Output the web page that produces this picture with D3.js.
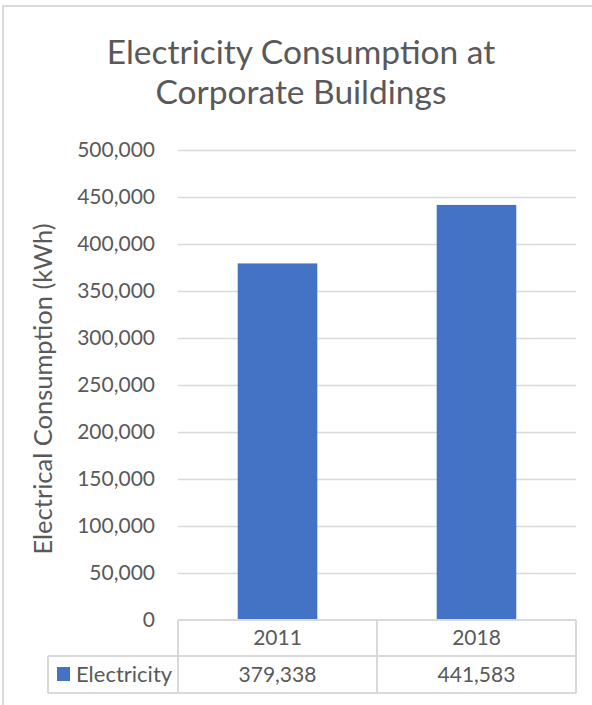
<!DOCTYPE html>
<html>
<head>
<meta charset="utf-8">
<script src="https://cdn.jsdelivr.net/npm/d3@7"></script>
<style>
  html, body { margin: 0; padding: 0; background: #ffffff; }
  svg { display: block; font-family: Lato, "Open Sans", sans-serif; }
</style>
</head>
<body>
<svg id="chart" width="592" height="705"></svg>
<script>
// Chart data
const categories = ["2011", "2018"];
const seriesName = "Electricity";
const electricity = [379338, 441583];
const yTicks = [0, 50000, 100000, 150000, 200000, 250000, 300000, 350000, 400000, 450000, 500000];
const titleLines = ["Electricity Consumption at", "Corporate Buildings"];
const yAxisTitle = "Electrical Consumption (kWh)";

const textColor = "#595959";
const gridColor = "#d9d9d9";
const barColor = "#4472c4";

const svg = d3.select("#chart");
const fmt = d3.format(",");

// Plot frame
const plot = { left: 178, right: 576, top: 150, bottom: 620 };
const rowH = [36, 37];           // category row, series row of the data table
const legendLeft = 48;

const y = d3.scaleLinear().domain([0, 500000]).range([plot.bottom, plot.top]);
const x = d3.scaleBand().domain(categories).range([plot.left, plot.right]).padding(0);
const barW = x.bandwidth() / 2.5;   // gap width 150%

// Outer chart border (right side runs past the page edge)
svg.append("path")
  .attr("d", `M3,705 V6 H600`)
  .attr("fill", "none")
  .attr("stroke", gridColor)
  .attr("stroke-width", 2);

// Title
svg.append("text")
  .attr("x", 301).attr("y", 64)
  .attr("text-anchor", "middle")
  .attr("fill", textColor)
  .style("font-size", "33.5px")
  .selectAll("tspan")
  .data(titleLines)
  .join("tspan")
  .attr("x", 301)
  .attr("dy", (d, i) => i === 0 ? 0 : 40)
  .text(d => d);

// Gridlines and value axis
const yAxis = d3.axisLeft(y)
  .tickValues(yTicks)
  .tickFormat(fmt)
  .tickSize(-(plot.right - plot.left))
  .tickPadding(23);

const gy = svg.append("g")
  .attr("transform", `translate(${plot.left},0)`)
  .call(yAxis);
gy.select(".domain").remove();
gy.selectAll(".tick line")
  .attr("stroke", gridColor)
  .attr("stroke-width", 1.5)
  .attr("display", d => d === 0 ? "none" : null);
gy.selectAll(".tick text")
  .attr("fill", textColor)
  .attr("font-family", "Lato, 'Open Sans', sans-serif")
  .style("font-size", "21px");

// Axis title
svg.append("text")
  .attr("transform", `translate(52,389) rotate(-90)`)
  .attr("text-anchor", "middle")
  .attr("fill", textColor)
  .style("font-size", "25.5px")
  .text(yAxisTitle);

// Bars
svg.append("g")
  .selectAll("rect")
  .data(electricity)
  .join("rect")
  .attr("x", (d, i) => x(categories[i]) + (x.bandwidth() - barW) / 2)
  .attr("width", barW)
  .attr("y", d => y(d))
  .attr("height", d => y(0) - y(d))
  .attr("fill", barColor);

// Data table
const t0 = plot.bottom;
const t1 = t0 + rowH[0];
const t2 = t1 + rowH[1];
const table = svg.append("g")
  .attr("fill", "none")
  .attr("stroke", gridColor)
  .attr("stroke-width", 2);

table.append("line").attr("x1", plot.left).attr("x2", plot.right).attr("y1", t0).attr("y2", t0);
table.append("line").attr("x1", legendLeft).attr("x2", plot.right).attr("y1", t1).attr("y2", t1);
table.append("line").attr("x1", legendLeft).attr("x2", plot.right).attr("y1", t2).attr("y2", t2);
table.append("line").attr("x1", legendLeft).attr("x2", legendLeft).attr("y1", t1).attr("y2", t2);
const colEdges = [plot.left].concat(categories.map(c => x(c) + x.bandwidth()));
table.selectAll("line.col")
  .data(colEdges)
  .join("line")
  .attr("class", "col")
  .attr("x1", d => d).attr("x2", d => d)
  .attr("y1", t0).attr("y2", t2);

// Category labels
svg.append("g")
  .selectAll("text")
  .data(categories)
  .join("text")
  .attr("x", d => x(d) + x.bandwidth() / 2)
  .attr("y", (t0 + t1) / 2)
  .attr("dy", "0.35em")
  .attr("text-anchor", "middle")
  .attr("fill", textColor)
  .style("font-size", "21px")
  .text(d => d);

// Series values
svg.append("g")
  .selectAll("text")
  .data(electricity)
  .join("text")
  .attr("x", (d, i) => x(categories[i]) + x.bandwidth() / 2)
  .attr("y", (t1 + t2) / 2)
  .attr("dy", "0.35em")
  .attr("text-anchor", "middle")
  .attr("fill", textColor)
  .style("font-size", "21px")
  .text(d => fmt(d));

// Legend key in the table
svg.append("rect")
  .attr("x", 57).attr("y", 667)
  .attr("width", 13).attr("height", 14)
  .attr("fill", barColor);
svg.append("text")
  .attr("x", 76).attr("y", (t1 + t2) / 2)
  .attr("dy", "0.35em")
  .attr("fill", textColor)
  .style("font-size", "22px")
  .text(seriesName);
</script>
</body>
</html>
